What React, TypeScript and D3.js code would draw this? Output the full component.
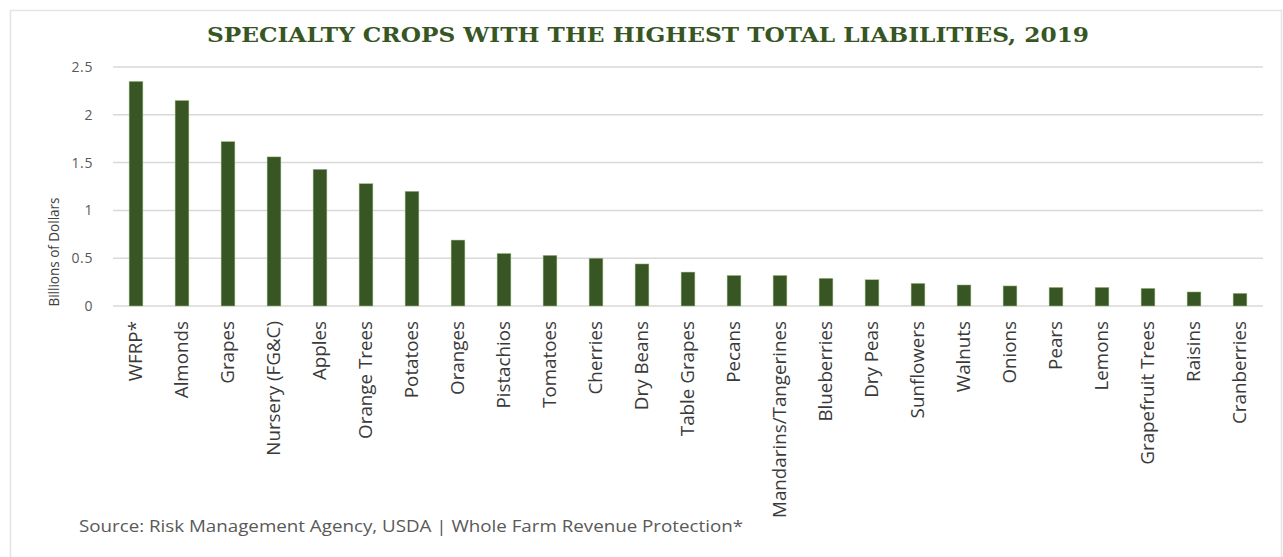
import React from "react";
import * as d3 from "d3";

const crops = [
  "WFRP*", "Almonds", "Grapes", "Nursery (FG&C)", "Apples", "Orange Trees", "Potatoes",
  "Oranges", "Pistachios", "Tomatoes", "Cherries", "Dry Beans", "Table Grapes", "Pecans",
  "Mandarins/Tangerines", "Blueberries", "Dry Peas", "Sunflowers", "Walnuts", "Onions",
  "Pears", "Lemons", "Grapefruit Trees", "Raisins", "Cranberries",
];
const liabilities = [
  2.35, 2.15, 1.72, 1.56, 1.43, 1.28, 1.2, 0.69, 0.55, 0.53, 0.5, 0.44, 0.355, 0.32,
  0.32, 0.29, 0.275, 0.237, 0.22, 0.21, 0.195, 0.195, 0.185, 0.147, 0.133,
];
const yTicks = [0, 0.5, 1, 1.5, 2, 2.5];
const title = "SPECIALTY CROPS WITH THE HIGHEST TOTAL LIABILITIES, 2019";
const yTitle = "Billions of Dollars";
const source = "Source: Risk Management Agency, USDA | Whole Farm Revenue Protection*";

const W = 1283;
const H = 557;
const GREEN = "#375623";

export default function App() {
  const x = d3
    .scaleBand<string>()
    .domain(crops)
    .range([113, 1263])
    .paddingInner(0.7)
    .paddingOuter(0.35);
  const y = d3.scaleLinear().domain([0, 2.5]).range([306, 67]);
  const fmt = (v: number) => (v === 0 ? "0" : d3.format("")(v));

  return (
    <div style={{ position: "absolute", left: 0, top: 0 }}>
      <svg width={W} height={H} style={{ display: "block", background: "#fff" }}>
        <rect x={10.5} y={10.5} width={1271} height={560} fill="#fff" stroke="#e4e4e4" strokeWidth={1.5} />
        <text
          x={648}
          y={42}
          textAnchor="middle"
          fontFamily="'DejaVu Serif', serif"
          fontWeight="bold"
          fontSize={20}
          fill={GREEN}
          textLength={882}
          lengthAdjust="spacingAndGlyphs"
        >
          {title}
        </text>
        {yTicks.map((t) => (
          <g key={t}>
            <line x1={113} x2={1263} y1={y(t)} y2={y(t)} stroke="#d9d9d9" strokeWidth={1.5} />
            <text
              x={93}
              y={y(t)}
              dy="0.35em"
              textAnchor="end"
              fontFamily="'Open Sans', sans-serif"
              fontSize={14}
              letterSpacing={0.6}
              fill="#595959"
            >
              {fmt(t)}
            </text>
          </g>
        ))}
        <text
          transform={`translate(54,252) rotate(-90)`}
          dy="0.35em"
          textAnchor="middle"
          fontFamily="'Open Sans', sans-serif"
          fontSize={15}
          fill="#404040"
          textLength={109}
          lengthAdjust="spacingAndGlyphs"
        >
          {yTitle}
        </text>
        {crops.map((c, i) => (
          <rect
            key={c}
            x={x(c)}
            y={y(liabilities[i])}
            width={x.bandwidth()}
            height={y(0) - y(liabilities[i])}
            fill={GREEN}
            stroke="#a9c38f"
            strokeWidth={0.5}
          />
        ))}
        {crops.map((c) => (
          <text
            key={c}
            transform={`translate(${(x(c) as number) + x.bandwidth() / 2},321) rotate(-90) scale(1.08,1)`}
            dy="0.36em"
            textAnchor="end"
            fontFamily="'Open Sans', sans-serif"
            fontSize={17.4}
            fill="#3a3a3a"
          >
            {c}
          </text>
        ))}
        <text
          x={79}
          y={532}
          fontFamily="'Open Sans', sans-serif"
          fontSize={16}
          fill="#595959"
          textLength={664}
          lengthAdjust="spacingAndGlyphs"
        >
          {source}
        </text>
      </svg>
    </div>
  );
}
